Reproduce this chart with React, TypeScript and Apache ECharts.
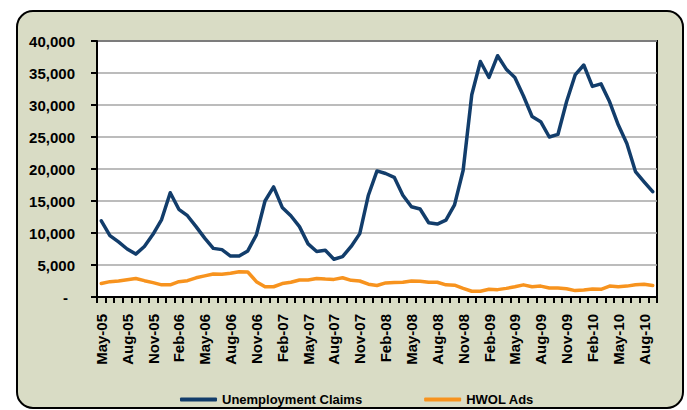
import React, { useEffect, useRef } from "react";
import * as echarts from "echarts";

const months: string[] = [
  "May-05","Jun-05","Jul-05","Aug-05","Sep-05","Oct-05","Nov-05","Dec-05",
  "Jan-06","Feb-06","Mar-06","Apr-06","May-06","Jun-06","Jul-06","Aug-06","Sep-06","Oct-06","Nov-06","Dec-06",
  "Jan-07","Feb-07","Mar-07","Apr-07","May-07","Jun-07","Jul-07","Aug-07","Sep-07","Oct-07","Nov-07","Dec-07",
  "Jan-08","Feb-08","Mar-08","Apr-08","May-08","Jun-08","Jul-08","Aug-08","Sep-08","Oct-08","Nov-08","Dec-08",
  "Jan-09","Feb-09","Mar-09","Apr-09","May-09","Jun-09","Jul-09","Aug-09","Sep-09","Oct-09","Nov-09","Dec-09",
  "Jan-10","Feb-10","Mar-10","Apr-10","May-10","Jun-10","Jul-10","Aug-10","Sep-10",
];

const unemploymentClaims: number[] = [
  11900, 9600, 8600, 7500, 6700, 7900, 9800, 12100,
  16300, 13700, 12700, 11000, 9200, 7600, 7400, 6400, 6400, 7200, 9700, 15000,
  17200, 14000, 12700, 11000, 8300, 7100, 7300, 5900, 6300, 7900, 9900, 15900,
  19700, 19300, 18700, 15900, 14100, 13750, 11600, 11400, 12000, 14400, 19800, 31600,
  36800, 34300, 37700, 35600, 34300, 31400, 28200, 27400, 25000, 25400, 30500, 34700,
  36250, 32900, 33300, 30500, 26900, 24000, 19600, 18000, 16450,
];

const hwolAds: number[] = [
  2100, 2400, 2500, 2700, 2900, 2550, 2250, 1900,
  1900, 2400, 2550, 3000, 3300, 3600, 3550, 3700, 3950, 3900, 2400, 1600,
  1600, 2100, 2300, 2650, 2650, 2900, 2800, 2750, 3000, 2600, 2500, 2000,
  1800, 2200, 2250, 2300, 2500, 2450, 2300, 2300, 1900, 1850, 1350, 900,
  900, 1200, 1150, 1350, 1600, 1900, 1600, 1700, 1400, 1400, 1300, 1000,
  1100, 1250, 1200, 1700, 1600, 1700, 1900, 2000, 1800,
];

const FONT = "'Liberation Sans', Arial, sans-serif";

export default function App() {
  const ref = useRef<HTMLDivElement>(null);
  useEffect(() => {
    if (!ref.current) return;
    const chart = echarts.init(ref.current, undefined, { renderer: "svg" });
    chart.setOption({
      animation: false,
      backgroundColor: "#ffffff",
      graphic: [
        {
          type: "rect",
          z: -10,
          silent: true,
          shape: { x: 17, y: 11, width: 666, height: 397, r: 16 },
          style: { fill: "#D9DCC5", stroke: "#000000", lineWidth: 2 },
        },
      ],
      grid: {
        left: 97,
        right: 30,
        top: 41,
        bottom: 113,
        show: true,
        backgroundColor: "#ffffff",
        borderColor: "#000000",
        borderWidth: 2,
        z: 0,
      },
      legend: {
        left: 175,
        top: 388,
        itemGap: 62,
        icon: "roundRect",
        itemWidth: 37,
        itemHeight: 4,
        textStyle: { fontFamily: FONT, fontWeight: "bold", fontSize: 13, color: "#000" },
        data: ["Unemployment Claims", "HWOL Ads"],
      },
      xAxis: {
        type: "category",
        data: months,
        boundaryGap: true,
        axisLine: { lineStyle: { color: "#000", width: 2 } },
        axisTick: { show: true, interval: 0, length: 6, lineStyle: { color: "#000", width: 2 } },
        axisLabel: {
          interval: 2,
          rotate: 90,
          margin: 17,
          fontFamily: FONT,
          fontWeight: "bold",
          fontSize: 15,
          color: "#000",
        },
        splitLine: { show: false },
      },
      yAxis: {
        type: "value",
        min: 0,
        max: 40000,
        interval: 5000,
        axisLine: { show: true, lineStyle: { color: "#000", width: 2 } },
        axisTick: { show: true, length: 6, lineStyle: { color: "#000", width: 2 } },
        axisLabel: {
          margin: 22,
          fontFamily: FONT,
          fontWeight: "bold",
          fontSize: 15,
          color: "#000",
          formatter: (v: number) => (v === 0 ? "{d|-}" : v.toLocaleString("en-US")),
          rich: {
            d: { fontFamily: FONT, fontWeight: "bold", fontSize: 15, color: "#000", padding: [0, 7, 0, 0] },
          },
        },
        splitLine: { show: true, lineStyle: { color: "#A6A6A6", width: 1.5 } },
      },
      series: [
        {
          name: "Unemployment Claims",
          type: "line",
          data: unemploymentClaims,
          symbol: "none",
          smooth: false,
          color: "#123D6B",
          lineStyle: { width: 3.5, color: "#123D6B", join: "round", cap: "round" },
          z: 3,
        },
        {
          name: "HWOL Ads",
          type: "line",
          data: hwolAds,
          symbol: "none",
          smooth: false,
          color: "#F7931E",
          lineStyle: { width: 3.5, color: "#F7931E", join: "round", cap: "round" },
          z: 2,
        },
      ],
    });
    return () => chart.dispose();
  }, []);
  return (
    <div
      ref={ref}
      style={{ position: "fixed", left: 0, top: 0, width: 687, height: 410 }}
    />
  );
}
